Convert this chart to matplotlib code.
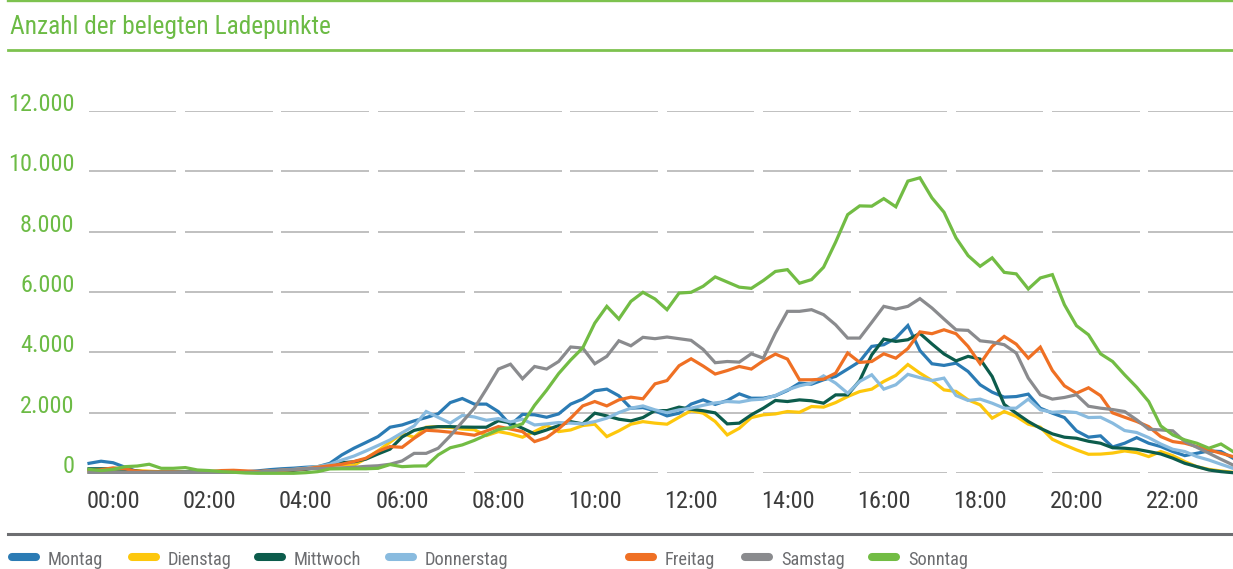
import numpy as np
import matplotlib
matplotlib.use("Agg")
import matplotlib.pyplot as plt
from matplotlib import font_manager
from matplotlib.lines import Line2D

# ---------------- data ----------------
# 96 quarter-hour slots; first slot sits half an hour left of the 00:00 label
slot_hours = np.arange(96) * 0.25 - 0.5

days = ["Montag", "Dienstag", "Mittwoch", "Donnerstag", "Freitag", "Samstag", "Sonntag"]

montag = [330, 400, 350, 200, 60, 50, 40, 40, 40, 40,
          40, 40, 40, 50, 80, 120, 150, 170, 200, 220,
          330, 610, 830, 1020, 1215, 1525, 1600, 1735, 1845, 1970,
          2340, 2475, 2290, 2290, 2040, 1600, 1950, 1935, 1855, 1965,
          2290, 2455, 2730, 2785, 2565, 2155, 2175, 2065, 1900, 1990,
          2290, 2430, 2280, 2410, 2630, 2485, 2485, 2565, 2740, 2985,
          2950, 3095, 3205, 3450, 3700, 4200, 4255, 4475, 4890, 4065,
          3625, 3570, 3645, 3370, 2930, 2685, 2520, 2540, 2620, 2155,
          1990, 1845, 1405, 1195, 1240, 870, 995, 1180, 995, 885,
          720, 585, 663, 740, 720, 500]

dienstag = [40, 40, 50, 80, 90, 70, 50, 40, 30, 30,
            30, 30, 30, 40, 50, 70, 90, 120, 150, 220,
            275, 275, 265, 490, 745, 1030, 1325, 1190, 1525, 1545,
            1520, 1465, 1440, 1250, 1380, 1305, 1195, 1380, 1580, 1380,
            1435, 1580, 1625, 1215, 1405, 1625, 1710, 1660, 1625, 1855,
            2075, 1990, 1715, 1270, 1490, 1845, 1935, 1965, 2045, 2020,
            2210, 2190, 2340, 2540, 2705, 2785, 3040, 3240, 3600, 3315,
            3070, 2760, 2710, 2430, 2265, 1825, 2045, 1880, 1625, 1525,
            1125, 940, 775, 630, 635, 670, 740, 685, 553, 720,
            585, 387, 220, 130, 77, 33]

mittwoch = [150, 150, 150, 130, 70, 40, 40, 40, 40, 40,
            40, 40, 40, 40, 50, 60, 80, 100, 130, 200,
            300, 350, 380, 470, 640, 800, 1200, 1420, 1510, 1545,
            1545, 1530, 1525, 1525, 1740, 1670, 1490, 1305, 1435, 1580,
            1710, 1635, 1990, 1900, 1790, 1735, 1845, 2075, 2075, 2190,
            2120, 2070, 2000, 1635, 1660, 1935, 2155, 2410, 2375, 2430,
            2400, 2320, 2595, 2595, 3070, 3920, 4440, 4365, 4420, 4630,
            4280, 3950, 3720, 3870, 3780, 3205, 2280, 1990, 1715, 1490,
            1305, 1195, 1160, 1060, 995, 845, 830, 795, 720, 640,
            500, 330, 220, 110, 55, 20]

donnerstag = [30, 30, 30, 30, 30, 30, 30, 30, 30, 30,
              30, 30, 30, 40, 50, 70, 100, 130, 170, 220,
              300, 440, 570, 740, 920, 1105, 1340, 1570, 2045, 1850,
              1660, 1915, 1865, 1755, 1810, 1700, 1790, 1600, 1635, 1680,
              1660, 1635, 1710, 1825, 2010, 2155, 2230, 2100, 2010, 2100,
              2155, 2250, 2330, 2375, 2355, 2430, 2455, 2575, 2760, 2895,
              2985, 3225, 2985, 2650, 3040, 3260, 2785, 2930, 3275, 3165,
              3070, 3150, 2575, 2410, 2455, 2320, 2155, 2155, 2455, 2100,
              2020, 2045, 2010, 1845, 1855, 1660, 1415, 1350, 1180, 970,
              795, 720, 553, 440, 300, 165]

freitag = [80, 120, 180, 150, 60, 40, 40, 40, 30, 30,
           60, 90, 100, 80, 60, 80, 100, 120, 150, 200,
           250, 300, 390, 500, 730, 885, 860, 1160, 1425, 1400,
           1360, 1315, 1260, 1400, 1545, 1465, 1380, 1050, 1180, 1470,
           1825, 2230, 2375, 2230, 2430, 2520, 2465, 2960, 3070, 3560,
           3790, 3550, 3285, 3400, 3535, 3450, 3725, 3945, 3780, 3095,
           3095, 3115, 3315, 3980, 3670, 3700, 3955, 3810, 4130, 4680,
           4620, 4750, 4620, 4200, 3625, 4200, 4530, 4275, 3810, 4175,
           3405, 2895, 2650, 2830, 2570, 2000, 1855, 1715, 1545, 1215,
           1050, 995, 885, 775, 663, 553]

samstag = [30, 30, 30, 30, 30, 30, 30, 30, 30, 30,
           30, 30, 30, 30, 40, 80, 110, 130, 150, 160,
           165, 180, 200, 230, 250, 300, 410, 660, 660, 830,
           1240, 1700, 2155, 2790, 3450, 3610, 3130, 3535, 3450, 3700,
           4180, 4145, 3625, 3870, 4385, 4220, 4500, 4455, 4510, 4455,
           4400, 4100, 3660, 3700, 3680, 3955, 3810, 4640, 5360, 5360,
           5415, 5250, 4915, 4475, 4475, 4995, 5525, 5435, 5525, 5780,
           5470, 5105, 4750, 4730, 4385, 4340, 4255, 3980, 3150, 2600,
           2455, 2510, 2600, 2220, 2155, 2110, 2045, 1770, 1460, 1435,
           1405, 1050, 860, 663, 465, 275]

sonntag = [130, 90, 130, 220, 240, 300, 165, 165, 190, 110,
           90, 55, 35, 10, 0, 0, 0, 0, 20, 55,
           145, 150, 150, 150, 165, 290, 220, 240, 245, 610,
           845, 940, 1090, 1270, 1450, 1510, 1640, 2250, 2750, 3300,
           3750, 4150, 4970, 5525, 5105, 5690, 5990, 5770, 5415, 5965,
           5990, 6190, 6500, 6330, 6160, 6120, 6380, 6680, 6740, 6290,
           6410, 6820, 7650, 8560, 8850, 8840, 9090, 8820, 9670, 9780,
           9115, 8640, 7790, 7205, 6850, 7130, 6650, 6600, 6100, 6465,
           6575, 5580, 4885, 4585, 3955, 3700, 3260, 2850, 2375, 1570,
           1270, 1105, 995, 830, 970, 720]

series = [montag, dienstag, mittwoch, donnerstag, freitag, samstag, sonntag]

tick_hours = list(range(0, 24, 2))
tick_labels = [f"{h:02d}:00" for h in tick_hours]
y_ticks = [0, 2000, 4000, 6000, 8000, 10000, 12000]
y_tick_labels = ["0", "2.000", "4.000", "6.000", "8.000", "10.000", "12.000"]
title = "Anzahl der belegten Ladepunkte"

# ---------------- style ----------------
colors = ["#2b7bb4", "#fdc70c", "#0c5c4c", "#89bbdf", "#ef7024", "#8a8b8e", "#72bc44"]
GREEN = "#6cbb45"

names = {f.name for f in font_manager.fontManager.ttflist}
FONT = "DejaVu Sans"
for cand in ["Liberation Sans Narrow", "Roboto Condensed", "Open Sans Condensed",
             "Liberation Sans", "Roboto"]:
    if cand in names:
        FONT = cand
        break
plt.rcParams["font.family"] = [FONT, "DejaVu Sans"]

W, H = 1233, 569
fig = plt.figure(figsize=(W / 100, H / 100), dpi=100)


def fx(px):
    return px / W


def fy(py):
    return 1 - py / H


ax = fig.add_axes([fx(89), fy(473.3), fx(1233) - fx(89), fy(110.7) - fy(473.3)])
ax.set_xlim(-0.5, 23.25)
ax.set_ylim(0, 12000)
for s in ax.spines.values():
    s.set_visible(False)

# segmented horizontal gridlines
gap_centers = 1.4 + 2 * np.arange(11)
gap_half = 0.09
seg_start = np.concatenate([[-0.5], gap_centers + gap_half])
seg_end = np.concatenate([gap_centers - gap_half, [23.25]])
for yv in y_ticks:
    ax.hlines(np.full(len(seg_start), yv), seg_start, seg_end,
              color="#c0c0c0", lw=1.4, zorder=0)

for vals, c in zip(series, colors):
    ax.plot(slot_hours, vals, color=c, lw=2.3, clip_on=False,
            solid_joinstyle="miter", zorder=2)

ax.set_xticks(tick_hours, tick_labels)
ax.set_yticks(y_ticks, y_tick_labels)
ax.tick_params(axis="x", length=0, pad=12, labelsize=17.5, labelcolor="#3c3c3c")
ax.tick_params(axis="y", length=0, pad=10.5, labelsize=17.5, labelcolor=GREEN)
for lbl in ax.get_yticklabels():
    lbl.set_verticalalignment("baseline")

# header lines and title
fig.add_artist(Line2D([fx(8), 1], [fy(0.9), fy(0.9)], transform=fig.transFigure,
                      color="#7dc24f", lw=1.7))
fig.add_artist(Line2D([fx(8), 1], [fy(50.3), fy(50.3)], transform=fig.transFigure,
                      color="#7dc24f", lw=2.0))
fig.text(fx(9.5), fy(34.3), title, color=GREEN, fontsize=18.3, va="baseline", ha="left")

# bottom rule
fig.add_artist(Line2D([fx(8), 1], [fy(534.2), fy(534.2)], transform=fig.transFigure,
                      color="#6d6e71", lw=2.2))

# legend
legend_left = [8, 128, 254, 385, 625, 741, 868]
for name, c, lx in zip(days, colors, legend_left):
    fig.add_artist(Line2D([fx(lx + 4), fx(lx + 28)], [fy(556.7), fy(556.7)],
                          transform=fig.transFigure, color=c, lw=5.8,
                          solid_capstyle="round"))
    fig.text(fx(lx + 40), fy(565), name, color="#6d6e71", fontsize=13.2,
             va="baseline", ha="left")

fig.savefig("out.png", dpi=100)
